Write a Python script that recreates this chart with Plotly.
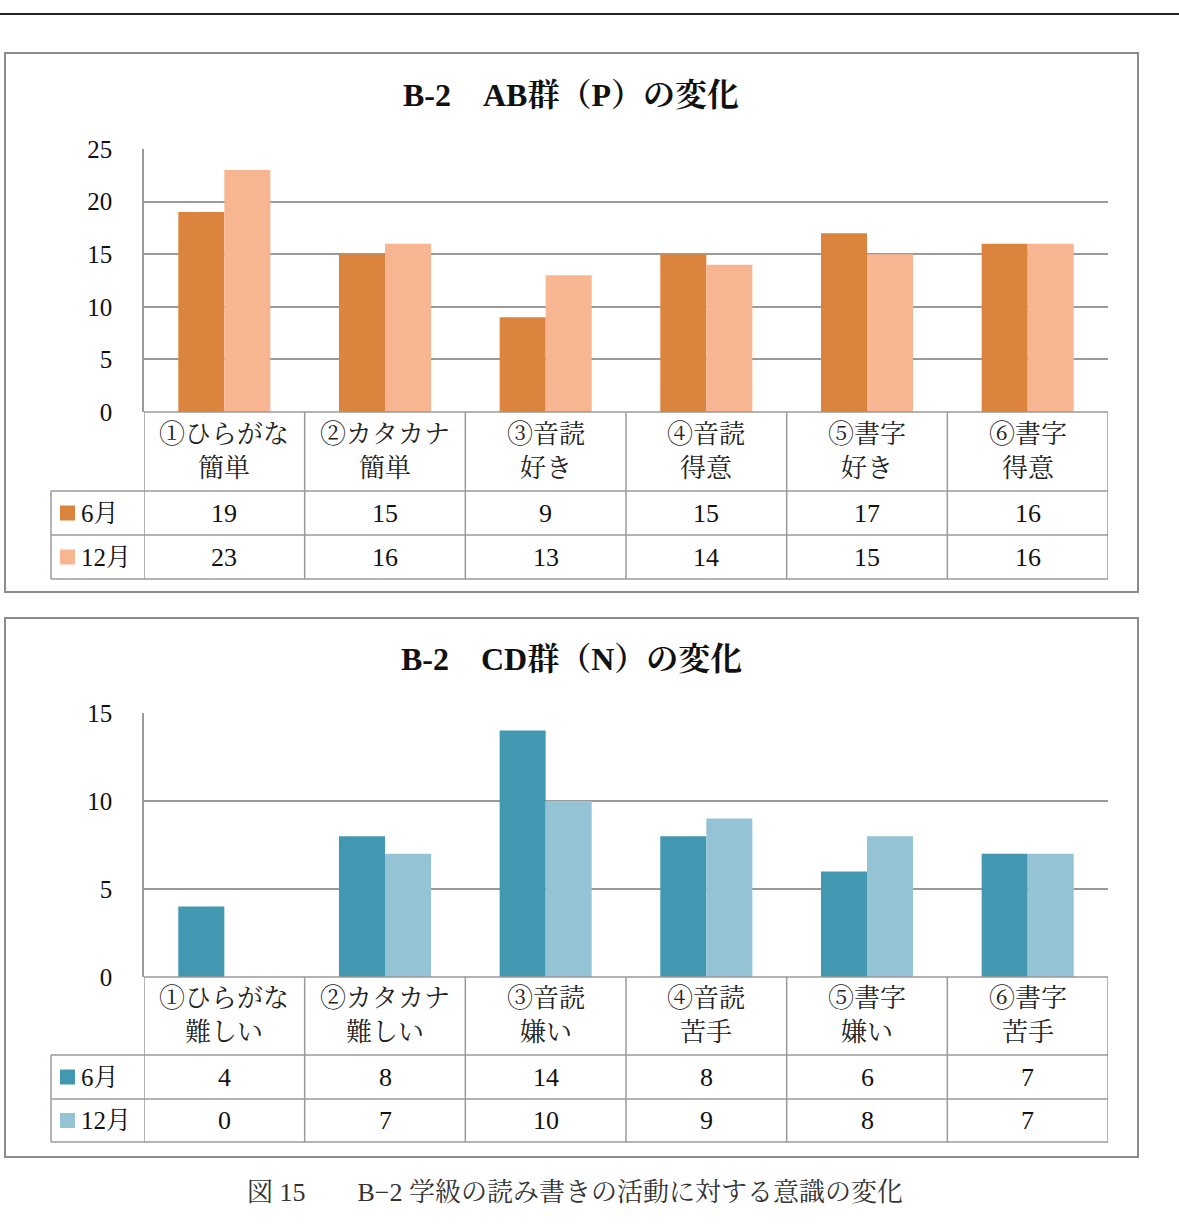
import plotly.graph_objects as go

W, H = 1179, 1225

# ---------------- data ----------------
cats1 = ["①ひらがな<br>簡単", "②カタカナ<br>簡単", "③音読<br>好き", "④音読<br>得意", "⑤書字<br>好き", "⑥書字<br>得意"]
jun1 = [19, 15, 9, 15, 17, 16]
dec1 = [23, 16, 13, 14, 15, 16]

cats2 = ["①ひらがな<br>難しい", "②カタカナ<br>難しい", "③音読<br>嫌い", "④音読<br>苦手", "⑤書字<br>嫌い", "⑥書字<br>苦手"]
jun2 = [4, 8, 14, 8, 6, 7]
dec2 = [0, 7, 10, 9, 8, 7]

series_names = ["6月", "12月"]
title1 = "B-2　AB群（P）の変化"
title2 = "B-2　CD群（N）の変化"
caption = "図 15　　B−2 学級の読み書きの活動に対する意識の変化"

col_jun1, col_dec1 = "#DB843D", "#F8B591"
col_jun2, col_dec2 = "#4398B1", "#93C3D4"

FONT = "Liberation Serif, Noto Serif CJK JP, Noto Sans CJK JP, serif"
GRID = "#9A9A9A"


def px(x):
    return x / W


def py(y):
    return 1 - y / H


# layout geometry (pixels)
panels = [
    dict(cats=cats1, a=jun1, b=dec1, ca=col_jun1, cb=col_dec1, title=title1,
         box=(5, 53, 1138, 592), title_y=95, top=149, bot=412,
         rows=(491, 535, 579), ymax=25, xa="x", ya="y"),
    dict(cats=cats2, a=jun2, b=dec2, ca=col_jun2, cb=col_dec2, title=title2,
         box=(5, 618, 1138, 1157), title_y=659, top=713, bot=977,
         rows=(1055, 1099, 1142), ymax=15, xa="x2", ya="y2"),
]
PL, PR, TL = 144, 1108, 51

fig = go.Figure()
shapes = []
annotations = []

for i, p in enumerate(panels):
    fig.add_trace(go.Bar(x=p["cats"], y=p["a"], name=series_names[0], marker_color=p["ca"],
                         marker_line_width=0, xaxis=p["xa"], yaxis=p["ya"], showlegend=False))
    fig.add_trace(go.Bar(x=p["cats"], y=p["b"], name=series_names[1], marker_color=p["cb"],
                         marker_line_width=0, xaxis=p["xa"], yaxis=p["ya"], showlegend=False))

    xl = "xaxis" if i == 0 else "xaxis2"
    yl = "yaxis" if i == 0 else "yaxis2"
    fig.update_layout(**{
        xl: dict(domain=[px(PL), px(PR)], anchor=p["ya"], showticklabels=False, showgrid=False,
                 zeroline=False, showline=False, range=[-0.5, len(p["cats"]) - 0.5],
                 fixedrange=True, automargin=False),
        yl: dict(domain=[py(p["bot"]), py(p["top"])], anchor=p["xa"], range=[0, p["ymax"]],
                 dtick=5, showgrid=True, gridcolor=GRID, gridwidth=1.5, zeroline=False,
                 showline=True, linecolor=GRID, linewidth=1.5,
                 tickfont=dict(family=FONT, size=25, color="#111"), ticklabelstandoff=25,
                 fixedrange=True, automargin=False),
    })

    x0, y0, x1, y1 = p["box"]
    # outer frame
    shapes.append(dict(type="rect", xref="paper", yref="paper", x0=px(x0), x1=px(x1),
                       y0=py(y0), y1=py(y1), line=dict(color="#8C8C8C", width=2)))
    # title
    annotations.append(dict(text="<b>" + p["title"] + "</b>", xref="paper", yref="paper",
                            x=px(571), y=py(p["title_y"]), showarrow=False,
                            font=dict(family=FONT, size=32, color="#111"),
                            xanchor="center", yanchor="middle"))
    # table grid
    r0, r1, r2 = p["rows"]
    line = dict(color=GRID, width=1.5)
    shapes.append(dict(type="line", xref="paper", yref="paper", x0=px(PL), x1=px(PR),
                       y0=py(p["bot"]), y1=py(p["bot"]), line=line))
    for ry in (r0, r1, r2):
        shapes.append(dict(type="line", xref="paper", yref="paper", x0=px(TL), x1=px(PR),
                           y0=py(ry), y1=py(ry), line=line))
    shapes.append(dict(type="line", xref="paper", yref="paper", x0=px(TL), x1=px(TL),
                       y0=py(r0), y1=py(r2), line=line))
    for k in range(len(p["cats"]) + 1):
        shapes.append(dict(type="line", xref=p["xa"], yref="paper", x0=k - 0.5, x1=k - 0.5,
                           y0=py(p["bot"]), y1=py(r2), line=line))
    # category labels and values
    for k, c in enumerate(p["cats"]):
        annotations.append(dict(text=c, xref=p["xa"], yref="paper", x=k,
                                y=py((p["bot"] + r0) / 2), showarrow=False,
                                font=dict(family=FONT, size=26, color="#222"),
                                xanchor="center", yanchor="middle"))
        annotations.append(dict(text=str(p["a"][k]), xref=p["xa"], yref="paper", x=k,
                                y=py((r0 + r1) / 2), showarrow=False,
                                font=dict(family=FONT, size=26, color="#111"),
                                xanchor="center", yanchor="middle"))
        annotations.append(dict(text=str(p["b"][k]), xref=p["xa"], yref="paper", x=k,
                                y=py((r1 + r2) / 2), showarrow=False,
                                font=dict(family=FONT, size=26, color="#111"),
                                xanchor="center", yanchor="middle"))
    # series keys
    for name, col, (ya_, yb_) in ((series_names[0], p["ca"], (r0, r1)),
                                  (series_names[1], p["cb"], (r1, r2))):
        cy = (ya_ + yb_) / 2
        shapes.append(dict(type="rect", xref="paper", yref="paper", x0=px(60), x1=px(75),
                           y0=py(cy - 7.5), y1=py(cy + 7.5), fillcolor=col, line_width=0))
        annotations.append(dict(text=name, xref="paper", yref="paper", x=px(79), y=py(cy),
                                showarrow=False, font=dict(family=FONT, size=25, color="#111"),
                                xanchor="left", yanchor="middle"))

# top rule
shapes.append(dict(type="line", xref="paper", yref="paper", x0=0, x1=1, y0=py(14), y1=py(14),
                   line=dict(color="#222", width=2)))
# caption
annotations.append(dict(text=caption, xref="paper", yref="paper", x=px(575), y=py(1192),
                        showarrow=False, font=dict(family=FONT, size=26, color="#333"),
                        xanchor="center", yanchor="middle"))

fig.update_layout(width=W, height=H, margin=dict(l=0, r=0, t=0, b=0, pad=0, autoexpand=False),
                  paper_bgcolor="white", plot_bgcolor="white",
                  barmode="group", bargap=0.427, bargroupgap=0,
                  shapes=shapes, annotations=annotations, showlegend=False)

fig.write_html("out.html", config={"displayModeBar": False})
